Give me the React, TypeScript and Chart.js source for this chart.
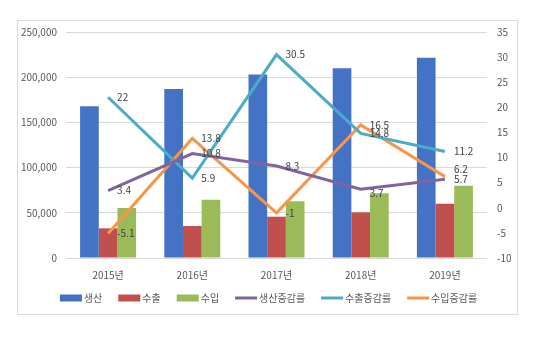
import { useEffect, useRef } from "react";
import { Chart, registerables } from "chart.js";

Chart.register(...registerables);

const categories = ["2015년", "2016년", "2017년", "2018년", "2019년"];
const production = [168000, 187000, 203000, 210000, 221500];
const exportsVol = [32800, 35400, 45700, 50500, 60100];
const importsVol = [55300, 64500, 62700, 71500, 80000];
const productionRate = [3.4, 10.8, 8.3, 3.7, 5.7];
const exportRate = [22, 5.9, 30.5, 14.8, 11.2];
const importRate = [-5.1, 13.8, -1, 16.5, 6.2];
const seriesNames = ["생산", "수출", "수입", "생산증감률", "수출증감률", "수입증감률"];

const FONT = '"Noto Sans CJK KR", "Noto Sans", sans-serif';
const COLORS = ["#4472C4", "#C0504D", "#9BBB59", "#8064A2", "#4BACC6", "#F79646"];

// small label nudges to mimic the reference's collision avoidance
const labelNudge: Record<string, number> = { "5-4": -7, "3-3": 4 };

const lineLabels = {
  id: "lineLabels",
  afterDatasetsDraw(chart: any) {
    const ctx = chart.ctx;
    ctx.save();
    ctx.font = `10px ${FONT}`;
    ctx.fillStyle = "#404040";
    ctx.textAlign = "left";
    ctx.textBaseline = "middle";
    chart.data.datasets.forEach((ds: any, di: number) => {
      if (ds.type !== "line") return;
      const meta = chart.getDatasetMeta(di);
      meta.data.forEach((pt: any, i: number) => {
        const dy = labelNudge[`${di}-${i}`] || 0;
        ctx.fillText(String(ds.data[i]), pt.x + 9, pt.y + dy);
      });
    });
    ctx.restore();
  },
};

const customLegend = {
  id: "customLegend",
  afterDraw(chart: any) {
    const ctx = chart.ctx;
    ctx.save();
    ctx.font = `10px ${FONT}`;
    const boxW = 22;
    const gap = 2;
    const spacing = 16;
    const items = chart.data.datasets.map((ds: any) => ({
      text: ds.label,
      color: ds.type === "line" ? ds.borderColor : ds.backgroundColor,
      line: ds.type === "line",
      w: boxW + gap + ctx.measureText(ds.label).width,
    }));
    const total = items.reduce((s: number, it: any) => s + it.w, 0) + spacing * (items.length - 1);
    let x = (chart.width - total) / 2 + 1;
    const y = chart.chartArea.bottom + 40;
    items.forEach((it: any) => {
      ctx.fillStyle = it.color;
      if (it.line) {
        ctx.fillRect(x, y - 1.5, boxW, 3);
      } else {
        ctx.fillRect(x, y - 3.5, boxW, 7);
      }
      ctx.fillStyle = "#595959";
      ctx.textAlign = "left";
      ctx.textBaseline = "middle";
      ctx.fillText(it.text, x + boxW + gap, y);
      x += it.w + spacing;
    });
    ctx.restore();
  },
};

export default function App() {
  const ref = useRef<HTMLCanvasElement>(null);

  useEffect(() => {
    if (!ref.current) return;
    const bar = (label: string, data: number[], color: string) => ({
      type: "bar" as const,
      label,
      data,
      backgroundColor: color,
      borderWidth: 0,
      yAxisID: "y",
      order: 2,
      categoryPercentage: 0.665,
      barPercentage: 1,
    });
    const line = (label: string, data: number[], color: string) => ({
      type: "line" as const,
      label,
      data,
      borderColor: color,
      backgroundColor: color,
      borderWidth: 3,
      pointRadius: 0,
      tension: 0,
      yAxisID: "y1",
      order: 1,
    });
    const fitY = (w: number) => (s: any) => {
      s.width = w;
      s.paddingTop = 0;
      s.paddingBottom = 0;
    };
    const chart = new Chart(ref.current, {
      type: "bar",
      data: {
        labels: categories,
        datasets: [
          bar(seriesNames[0], production, COLORS[0]),
          bar(seriesNames[1], exportsVol, COLORS[1]),
          bar(seriesNames[2], importsVol, COLORS[2]),
          line(seriesNames[3], productionRate, COLORS[3]),
          line(seriesNames[4], exportRate, COLORS[4]),
          line(seriesNames[5], importRate, COLORS[5]),
        ] as any,
      },
      options: {
        animation: false,
        responsive: false,
        devicePixelRatio: 1,
        layout: { padding: { top: 11, bottom: 28, left: 0, right: 0 } },
        plugins: {
          legend: { display: false },
          tooltip: { enabled: false },
        },
        scales: {
          x: {
            grid: { display: false },
            border: { display: false },
            ticks: { color: "#595959", font: { family: FONT, size: 10 }, padding: 3 },
            afterFit: (s: any) => { s.height = 28; s.paddingLeft = 0; s.paddingRight = 0; },
          },
          y: {
            position: "left",
            min: 0,
            max: 250000,
            ticks: {
              stepSize: 50000,
              color: "#595959",
              font: { family: FONT, size: 10 },
              padding: 9,
              callback: (v: any) => Number(v).toLocaleString("en-US"),
            },
            grid: { color: "#D9D9D9", drawTicks: false },
            border: { display: false },
            afterFit: fitY(48),
          },
          y1: {
            position: "right",
            min: -10,
            max: 35,
            ticks: { stepSize: 5, color: "#595959", font: { family: FONT, size: 10 }, padding: 10 },
            grid: { display: false, drawTicks: false },
            border: { display: false },
            afterFit: fitY(30),
          },
        },
      } as any,
      plugins: [lineLabels, customLegend],
    });
    return () => chart.destroy();
  }, []);

  return (
    <div
      style={{
        position: "absolute",
        left: 17,
        top: 20,
        width: 501,
        height: 295,
        border: "1px solid #D9D9D9",
        boxSizing: "border-box",
        background: "#fff",
      }}
    >
      <canvas ref={ref} width={499} height={293} style={{ display: "block" }} />
    </div>
  );
}
